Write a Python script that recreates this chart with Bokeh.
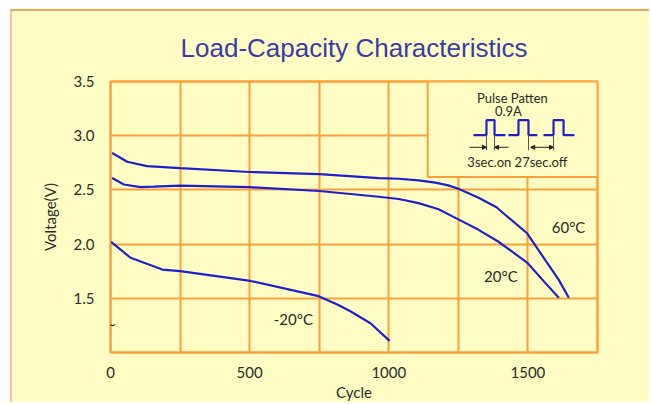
from bokeh.plotting import figure
from bokeh.models import FixedTicker, Range1d, Arrow, NormalHead, ColumnDataSource
from bokeh.core.properties import value
from bokeh.embed import file_html
from bokeh.resources import INLINE

# ---------------- data ----------------
cycles_60 = [6, 60, 131, 250, 500, 750, 964, 1036, 1107, 1167, 1214, 1250, 1321, 1387, 1437, 1497, 1563, 1611, 1647]
volt_60 = [2.84, 2.76, 2.72, 2.70, 2.665, 2.645, 2.609, 2.603, 2.588, 2.567, 2.542, 2.511, 2.43, 2.34, 2.23, 2.10, 1.85, 1.67, 1.505]

cycles_20 = [6, 48, 108, 156, 250, 500, 750, 964, 1036, 1107, 1179, 1250, 1321, 1393, 1497, 1563, 1611]
volt_20 = [2.61, 2.55, 2.525, 2.53, 2.54, 2.525, 2.49, 2.437, 2.416, 2.378, 2.322, 2.228, 2.134, 2.024, 1.83, 1.64, 1.505]

cycles_m20 = [2, 72, 186, 250, 503, 748, 815, 862, 934, 1003]
volt_m20 = [2.02, 1.874, 1.765, 1.75, 1.66, 1.52, 1.443, 1.38, 1.27, 1.107]

x_tick_values = [0, 500, 1000, 1500]
x_grid_values = [250, 500, 750, 1000, 1250, 1500]
y_tick_values = [1.5, 2.0, 2.5, 3.0, 3.5]
y_grid_values = [1.5, 2.0, 2.5, 3.0]

curve_labels = ["60°C", "20°C", "-20°C"]
title_text = "Load-Capacity Characteristics"
inset_title = "Pulse Patten"
inset_current = "0.9A"
inset_timing = "3sec.on 27sec.off"

# ---------------- styles ----------------
BG = "#FFFDC3"
ORANGE = "#F9A03A"
BLUE = "#1F1FCC"
TXT = "#2A2A2A"
FONT = "Lato"

p = figure(width=639, height=393, output_backend="svg", toolbar_location=None,
           x_range=Range1d(0, 1750), y_range=Range1d(1.0, 3.5),
           min_border_left=98, min_border_right=54, min_border_top=69, min_border_bottom=52)
p.styles = {"margin-left": "10px", "margin-top": "9px",
            "border-left": "2px solid #FDC27F", "border-top": "2px solid #F7A447"}
p.background_fill_color = BG
p.border_fill_color = BG
p.outline_line_color = ORANGE
p.outline_line_width = 2.5

p.title.text = title_text
p.title.align = "center"
p.title.text_font = "Liberation Sans"
p.title.text_font_size = "26px"
p.title.text_font_style = "normal"
p.title.text_color = "#3B3BA8"
p.title.standoff = 38

for ax in (p.xaxis[0], p.yaxis[0]):
    ax.axis_line_color = None
    ax.major_tick_line_color = None
    ax.minor_tick_line_color = None
    ax.major_label_text_font = FONT
    ax.major_label_text_font_size = "15px"
    ax.major_label_text_color = TXT
    ax.axis_label_text_font = FONT
    ax.axis_label_text_font_size = "15px"
    ax.axis_label_text_font_style = "normal"
    ax.axis_label_text_color = TXT

p.xaxis.ticker = FixedTicker(ticks=x_tick_values)
p.yaxis.ticker = FixedTicker(ticks=y_tick_values)
p.yaxis.major_label_overrides = {v: f"{v:.1f}" for v in y_tick_values}
p.xaxis.axis_label = "Cycle"
p.yaxis.axis_label = "Voltage(V)"
p.xaxis.major_label_standoff = 8
p.xaxis.axis_label_standoff = 2
p.yaxis.major_label_standoff = 10
p.yaxis.axis_label_standoff = 12

p.xgrid.ticker = FixedTicker(ticks=x_grid_values)
p.ygrid.ticker = FixedTicker(ticks=y_grid_values)
for g in (p.xgrid[0], p.ygrid[0]):
    g.grid_line_color = ORANGE
    g.grid_line_width = 2

# curves
p.line(cycles_60, volt_60, line_color=BLUE, line_width=2.2)
p.line(cycles_20, volt_20, line_color=BLUE, line_width=2.2)
p.line(cycles_m20, volt_m20, line_color=BLUE, line_width=2.2)

# curve labels
lbl = ColumnDataSource(dict(x=[1646, 1403, 657], y=[2.16, 1.706, 1.31], t=curve_labels))
p.text(x="x", y="y", text="t", source=lbl, text_font=value(FONT), text_font_size="15px",
       text_color=TXT, text_align="center", text_baseline="middle")

# axis break mark
p.text(x=[0], y=[1.25], text=["~"], text_font=value("DejaVu Sans"), text_font_size="14px",
       text_color=TXT, text_align="center", text_baseline="middle")

# ---------------- inset: pulse pattern ----------------
inset_left, inset_right, inset_bottom, inset_top = 1140, 1750, 2.62, 3.5
p.quad(left=[inset_left], right=[inset_right], bottom=[inset_bottom], top=[inset_top],
       fill_color=BG, line_color=ORANGE, line_width=2)

base, high = 3.006, 3.143
pulses = [(1304, 1351, 1380, 1419), (1430, 1466, 1502, 1534), (1556, 1592, 1628, 1667)]
for s, r, f, e in pulses:
    p.line([s, r, r, f, f, e], [base, base, high, high, base, base], line_color=BLUE, line_width=2.2)

dim_bottom = 2.865
for xv in (1351, 1380, 1502, 1592):
    p.line([xv, xv], [base, dim_bottom], line_color="#555555", line_width=1)

arrow_y = 2.893
head = dict(size=4, line_color="#222222", fill_color="#222222")
p.add_layout(Arrow(end=NormalHead(**head), x_start=1290, y_start=arrow_y, x_end=1351, y_end=arrow_y,
                   line_color="#222222", line_width=1))
p.add_layout(Arrow(end=NormalHead(**head), x_start=1430, y_start=arrow_y, x_end=1380, y_end=arrow_y,
                   line_color="#222222", line_width=1))
p.add_layout(Arrow(start=NormalHead(**head), end=NormalHead(**head), x_start=1510, y_start=arrow_y,
                   x_end=1592, y_end=arrow_y, line_color="#222222", line_width=1))

p.text(x=[1444, 1430, 1462], y=[3.345, 3.232, 2.756], text=[inset_title, inset_current, inset_timing],
       text_font=value(FONT), text_font_size="13px", text_color=TXT,
       text_align="center", text_baseline="middle")

open("out.html", "w").write(file_html(p, INLINE))
